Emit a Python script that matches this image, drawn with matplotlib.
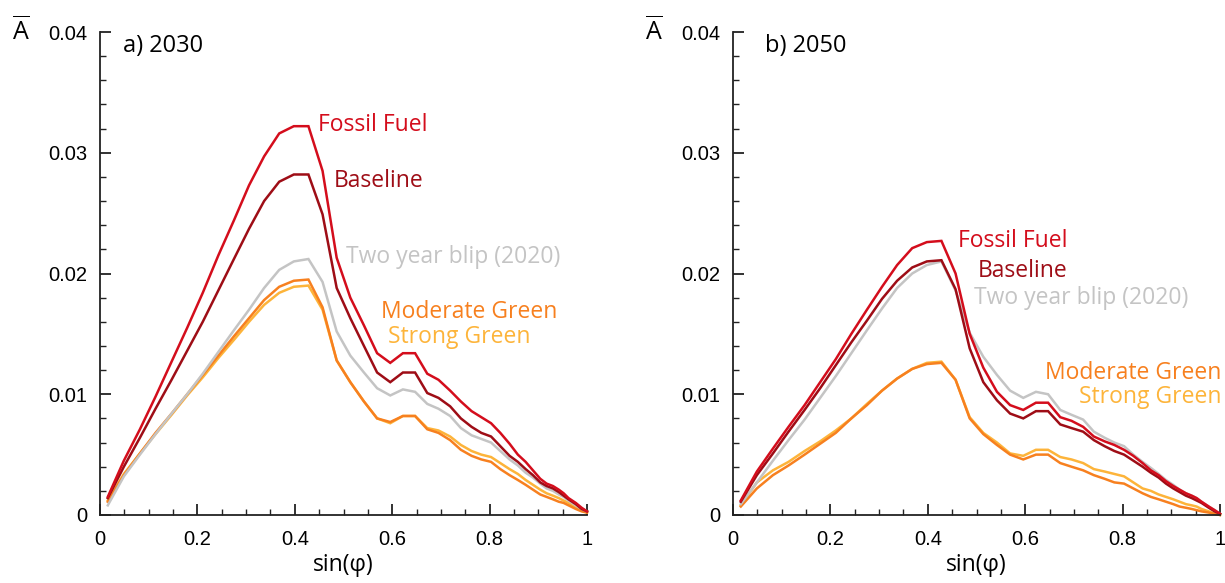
import matplotlib
matplotlib.use("Agg")
import matplotlib.pyplot as plt
from matplotlib.ticker import MultipleLocator, FuncFormatter

plt.rcParams["font.family"] = ["Liberation Sans", "DejaVu Sans"]
plt.rcParams["mathtext.fontset"] = "custom"
plt.rcParams["mathtext.rm"] = "Open Sans"
LABEL_FONT = ["Open Sans", "DejaVu Sans"]

# sin(latitude) grid
x_sin = [0.016, 0.049, 0.082, 0.114, 0.147, 0.179, 0.211, 0.243, 0.275, 0.306,
         0.337, 0.368, 0.398, 0.428, 0.457, 0.486, 0.514, 0.542, 0.569, 0.596,
         0.622, 0.647, 0.672, 0.695, 0.719, 0.741, 0.763, 0.783, 0.803, 0.822,
         0.841, 0.858, 0.874, 0.889, 0.904, 0.917, 0.930, 0.942, 0.952, 0.962,
         0.977, 0.989, 1.000]

scenarios = ["Fossil Fuel", "Baseline", "Two year blip (2020)", "Moderate Green", "Strong Green"]
colors = ["#d40d1c", "#9e0d16", "#c4c4c4", "#f7801f", "#fdb43a"]

# a) 2030
fossil_2030 = [0.0015, 0.0045, 0.0071, 0.0098, 0.0127, 0.0155, 0.0184, 0.0215, 0.0244, 0.0273,
               0.0297, 0.0316, 0.0322, 0.0322, 0.0285, 0.0213, 0.0180, 0.0157, 0.0134, 0.0126,
               0.0134, 0.0134, 0.0117, 0.0112, 0.0103, 0.0094, 0.0086, 0.0081, 0.0076, 0.0068,
               0.0059, 0.0050, 0.0044, 0.0037, 0.0030, 0.0026, 0.0024, 0.0021, 0.0018, 0.0014,
               0.0010, 0.0006, 0.0003]
baseline_2030 = [0.0014, 0.0040, 0.0064, 0.0088, 0.0112, 0.0136, 0.0160, 0.0186, 0.0212, 0.0237,
                 0.0260, 0.0276, 0.0282, 0.0282, 0.0249, 0.0188, 0.0163, 0.0140, 0.0118, 0.0110,
                 0.0118, 0.0118, 0.0101, 0.0097, 0.0090, 0.0080, 0.0073, 0.0068, 0.0065, 0.0057,
                 0.0049, 0.0044, 0.0038, 0.0033, 0.0027, 0.0024, 0.0022, 0.0019, 0.0016, 0.0013,
                 0.0009, 0.0005, 0.0003]
blip_2030 = [0.0008, 0.0032, 0.0050, 0.0067, 0.0084, 0.0100, 0.0117, 0.0135, 0.0153, 0.0170,
             0.0188, 0.0203, 0.0210, 0.0212, 0.0193, 0.0152, 0.0132, 0.0118, 0.0105, 0.0099,
             0.0104, 0.0102, 0.0092, 0.0088, 0.0082, 0.0072, 0.0066, 0.0063, 0.0060, 0.0053,
             0.0046, 0.0041, 0.0035, 0.0031, 0.0026, 0.0022, 0.0020, 0.0017, 0.0015, 0.0012,
             0.0008, 0.0005, 0.0003]
moderate_2030 = [0.0011, 0.0033, 0.0051, 0.0068, 0.0084, 0.0100, 0.0116, 0.0132, 0.0148, 0.0163,
                 0.0178, 0.0189, 0.0194, 0.0195, 0.0172, 0.0128, 0.0110, 0.0094, 0.0080, 0.0077,
                 0.0082, 0.0082, 0.0071, 0.0068, 0.0062, 0.0054, 0.0049, 0.0046, 0.0044, 0.0038,
                 0.0033, 0.0029, 0.0025, 0.0021, 0.0017, 0.0015, 0.0013, 0.0011, 0.0010, 0.0008,
                 0.0005, 0.0003, 0.0002]
strong_2030 = [0.0012, 0.0034, 0.0051, 0.0067, 0.0083, 0.0099, 0.0114, 0.0130, 0.0145, 0.0160,
               0.0174, 0.0184, 0.0189, 0.0190, 0.0170, 0.0128, 0.0110, 0.0094, 0.0080, 0.0076,
               0.0082, 0.0082, 0.0072, 0.0070, 0.0065, 0.0058, 0.0053, 0.0050, 0.0048, 0.0043,
               0.0038, 0.0034, 0.0029, 0.0025, 0.0021, 0.0018, 0.0016, 0.0014, 0.0012, 0.0010,
               0.0006, 0.0004, 0.0002]

# b) 2050
fossil_2050 = [0.0012, 0.0036, 0.0055, 0.0073, 0.0091, 0.0110, 0.0129, 0.0150, 0.0170, 0.0189,
               0.0207, 0.0221, 0.0226, 0.0227, 0.0200, 0.0150, 0.0122, 0.0102, 0.0091, 0.0087,
               0.0093, 0.0093, 0.0081, 0.0078, 0.0073, 0.0065, 0.0061, 0.0058, 0.0054, 0.0049,
               0.0043, 0.0037, 0.0033, 0.0028, 0.0024, 0.0021, 0.0018, 0.0016, 0.0014, 0.0011,
               0.0007, 0.0004, 0.0001]
baseline_2050 = [0.0011, 0.0033, 0.0051, 0.0069, 0.0087, 0.0105, 0.0124, 0.0143, 0.0161, 0.0179,
                 0.0194, 0.0205, 0.0210, 0.0211, 0.0187, 0.0138, 0.0110, 0.0095, 0.0084, 0.0080,
                 0.0086, 0.0086, 0.0075, 0.0072, 0.0069, 0.0062, 0.0057, 0.0053, 0.0050, 0.0045,
                 0.0040, 0.0035, 0.0031, 0.0026, 0.0022, 0.0019, 0.0016, 0.0014, 0.0012, 0.0010,
                 0.0006, 0.0003, 0.0001]
blip_2050 = [0.0009, 0.0027, 0.0045, 0.0062, 0.0079, 0.0097, 0.0115, 0.0134, 0.0153, 0.0171,
             0.0188, 0.0200, 0.0207, 0.0210, 0.0186, 0.0151, 0.0131, 0.0116, 0.0103, 0.0097,
             0.0102, 0.0100, 0.0087, 0.0083, 0.0079, 0.0069, 0.0064, 0.0060, 0.0057, 0.0050,
             0.0044, 0.0039, 0.0034, 0.0029, 0.0025, 0.0021, 0.0018, 0.0016, 0.0014, 0.0011,
             0.0007, 0.0004, 0.0001]
moderate_2050 = [0.0007, 0.0022, 0.0033, 0.0041, 0.0050, 0.0059, 0.0068, 0.0080, 0.0091, 0.0103,
                 0.0113, 0.0121, 0.0125, 0.0126, 0.0112, 0.0080, 0.0067, 0.0058, 0.0050, 0.0046,
                 0.0050, 0.0050, 0.0043, 0.0040, 0.0037, 0.0033, 0.0030, 0.0027, 0.0026, 0.0022,
                 0.0018, 0.0015, 0.0013, 0.0011, 0.0009, 0.0007, 0.0006, 0.0005, 0.0004, 0.0003,
                 0.0002, 0.0001, 0.0000]
strong_2050 = [0.0008, 0.0027, 0.0037, 0.0044, 0.0053, 0.0061, 0.0070, 0.0080, 0.0092, 0.0103,
               0.0113, 0.0121, 0.0126, 0.0127, 0.0112, 0.0081, 0.0068, 0.0060, 0.0051, 0.0049,
               0.0054, 0.0054, 0.0048, 0.0046, 0.0043, 0.0038, 0.0036, 0.0034, 0.0032, 0.0027,
               0.0022, 0.0020, 0.0017, 0.0015, 0.0013, 0.0011, 0.0009, 0.0008, 0.0007, 0.0005,
               0.0003, 0.0001, 0.0000]

panels = [
    ("a) 2030", [fossil_2030, baseline_2030, blip_2030, moderate_2030, strong_2030]),
    ("b) 2050", [fossil_2050, baseline_2050, blip_2050, moderate_2050, strong_2050]),
]

# label anchors (data coords) and alignment per panel
label_pos = [
    [(0.448, 0.0323, "left"), (0.480, 0.0277, "left"), (0.505, 0.0214, "left"),
     (0.578, 0.0168, "left"), (0.592, 0.0147, "left")],
    [(0.462, 0.0227, "left"), (0.503, 0.0202, "left"), (0.495, 0.0180, "left"),
     (1.003, 0.0118, "right"), (1.003, 0.0098, "right")],
]

fig = plt.figure(figsize=(12.25, 5.83), dpi=100)
lefts = [100 / 1225, 733 / 1225]
width = 487 / 1225
bottom = 1 - 515 / 583
height = (515 - 32) / 583


def fmt(v, pos):
    if abs(v) < 1e-12:
        return "0"
    return f"{v:g}"


for k, (title, series) in enumerate(panels):
    ax = fig.add_axes([lefts[k], bottom, width, height])
    # draw lightest first so reds sit on top
    for s, c in zip(series[::-1], colors[::-1]):
        ax.plot(x_sin, s, color=c, lw=1.8, solid_joinstyle="miter", clip_on=False)
    for (lx, ly, ha), c, lab in zip(label_pos[k], colors, scenarios):
        ax.text(lx, ly, lab, color=c, fontsize=16.5, ha=ha, va="center", family=LABEL_FONT)
    ax.text(0.047 if k == 0 else 0.066, 0.0388, title, fontsize=17, va="center",
            family=LABEL_FONT)

    ax.set_xlim(0, 1)
    ax.set_ylim(0, 0.04)
    for sp in ("top", "right"):
        ax.spines[sp].set_visible(False)
    for sp in ("left", "bottom"):
        ax.spines[sp].set_linewidth(1.3)
        ax.spines[sp].set_color("#222222")
    ax.xaxis.set_major_locator(MultipleLocator(0.2))
    ax.xaxis.set_minor_locator(MultipleLocator(0.05))
    ax.yaxis.set_major_locator(MultipleLocator(0.01))
    ax.yaxis.set_minor_locator(MultipleLocator(0.002))
    ax.xaxis.set_major_formatter(FuncFormatter(fmt))
    ax.yaxis.set_major_formatter(FuncFormatter(fmt))
    ax.tick_params(which="major", direction="in", length=8, width=1.3, color="#222222",
                   labelsize=14.5, pad=9)
    ax.tick_params(axis="x", which="major", pad=11)
    ax.tick_params(which="minor", direction="in", length=4.5, width=1.0, color="#222222")
    ax.set_xlabel("sin(φ)", fontsize=16.5, labelpad=3, family=LABEL_FONT)
    fig.text(lefts[k] - 88 / 1225, 1 - 30 / 583, r"$\overline{\mathrm{A}}$",
             fontsize=18, ha="left", va="center")

fig.savefig("out.png", dpi=100)
